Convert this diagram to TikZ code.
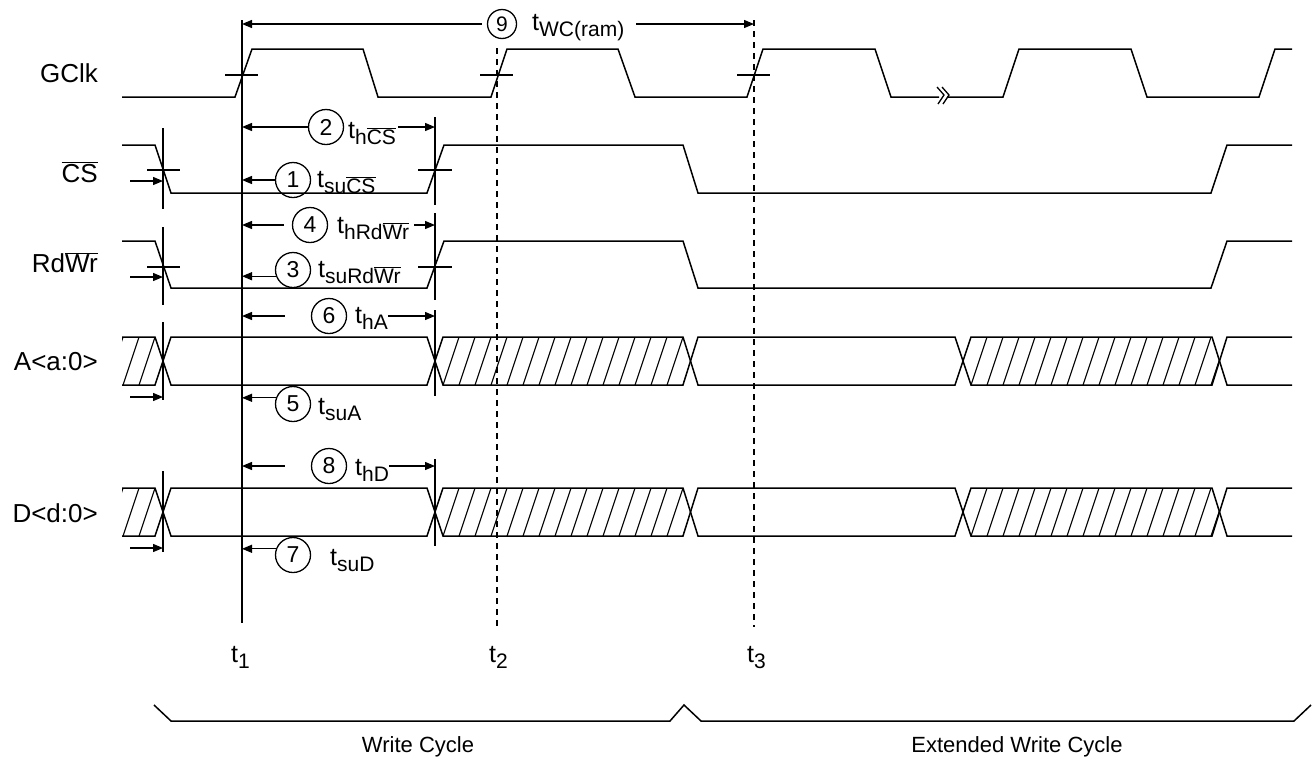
\documentclass[tikz,border=0pt]{standalone}
\usepackage{fontspec}
\setmainfont{Liberation Sans}
\usetikzlibrary{arrows.meta}

\newcommand{\tsub}[1]{t\raisebox{-6pt}{\fontsize{21}{21}\selectfont #1}}
\newcommand{\ovl}[1]{$\overline{\mbox{#1}}$}

\tikzset{
  sig/.style={line width=1.5pt, line join=miter},
  xtick/.style={line width=1.3pt},
  hatch/.style={line width=1.1pt},
  tarrow/.style={line width=1.3pt, -{Triangle[length=10pt,width=8pt]}},
  tdash/.style={line width=1.3pt, dash pattern=on 6pt off 5pt},
  num/.style={draw, circle, line width=1.3pt, minimum size=35pt, inner sep=0pt,
              font=\fontsize{23}{23}\selectfont},
  lbl/.style={inner sep=0pt, anchor=base west, font=\fontsize{25}{25}\selectfont},
  signame/.style={inner sep=0pt, anchor=base east, font=\fontsize{26}{26}\selectfont},
  cyc/.style={inner sep=0pt, font=\fontsize{22}{22}\selectfont},
}

\begin{document}
\begin{tikzpicture}[x=1pt,y=-1pt]
    \useasboundingbox (0,0) rectangle (1312,761);
    %% Reference lines
    \coordinate (tone)   at (242,20);
    \coordinate (thold)  at (435,117);
    \coordinate (tthree) at (754,20);
    \draw[xtick] (tone) -- (242,623);
    \draw[tdash] (497,48) -- (497,627);
    \draw[tdash] (tthree) -- (754,627);
    %% Signal names
    \node[signame] (gclk) at (98,82)  {GClk};
    \node[signame] (cs)   at (98,182) {\ovl{CS}};
    \node[signame] (rdwr) at (98,272) {Rd\ovl{Wr}};
    \node[signame] (abus) at (98,370) {A<a:0>};
    \node[signame] (dbus) at (98,522) {D<d:0>};
    %% GClk
    \draw[sig] (122,97) -- (235,97) -- (252,49) -- (363,49) -- (378,97) -- (491,97)
        -- (507,49) -- (618,49) -- (635,97) -- (747,97) -- (763,49) -- (875,49)
        -- (891,97) -- (939,97);
    \draw[sig] (947,97) -- (1003,97) -- (1019,49) -- (1131,49) -- (1147,97)
        -- (1259,97) -- (1275,49) -- (1292,49);
        \draw[xtick] (937,87) -- (944,95) -- (938,104);
        \draw[xtick] (942,87) -- (949,95) -- (943,104);
    \foreach \x in {242,497,754}
        \draw[xtick] (\x-17,75) -- (\x+16,75);
    %% CS and RdWr
    \draw[sig] (122,145) -- (155,145) -- (171,193) -- (427,193) -- (444,145)
        -- (683,145) -- (698,193) -- (1211,193) -- (1227,145) -- (1292,145);
    \draw[sig] (122,241) -- (155,241) -- (171,288) -- (427,288) -- (444,241)
        -- (683,241) -- (698,288) -- (1211,288) -- (1227,241) -- (1292,241);
    \foreach \y in {170,267} {
        \draw[xtick] (147,\y) -- (180,\y);
        \draw[xtick] (418,\y) -- (452,\y);
    }
    %% Setup and hold edges
    \draw[xtick] (163,128) -- (163,209);  \draw[xtick] (435,117) -- (435,205);
    \draw[xtick] (163,227) -- (163,305);  \draw[xtick] (435,213) -- (435,300);
    \draw[xtick] (163,322) -- (163,400);  \draw[xtick] (435,310) -- (435,396);
    \draw[xtick] (163,471) -- (163,552);  \draw[xtick] (435,459) -- (435,546);
    %% Address and data busses
    \foreach \dy in {0,151} {
    \begin{scope}[shift={(0,\dy)}]
        \draw[sig] (122,337) -- (155,337) -- (171,385) -- (427,385) -- (443,337)
            -- (683,337) -- (698,385) -- (955,385) -- (971,337) -- (1212,337)
            -- (1227,385) -- (1292,385);
        \draw[sig] (122,385) -- (155,385) -- (171,337) -- (427,337) -- (443,385)
            -- (683,385) -- (698,337) -- (955,337) -- (971,385) -- (1212,385)
            -- (1227,337) -- (1292,337);
        \begin{scope}
            \clip (122,337) -- (155,337) -- (163,361) -- (155,385) -- (122,385) -- cycle;
            \foreach \x in {107,123,139}
                \draw[hatch] (\x,385) -- ++(16,-48);
        \end{scope}
        \begin{scope}
            \clip (435,361) -- (443,337) -- (683,337) -- (690,361) -- (683,385) -- (443,385) -- cycle;
            \foreach \x in {443,459,...,683}
                \draw[hatch] (\x,385) -- ++(16,-48);
        \end{scope}
        \begin{scope}
            \clip (963,361) -- (971,337) -- (1212,337) -- (1220,361) -- (1212,385) -- (971,385) -- cycle;
            \foreach \x in {971,987,...,1212}
                \draw[hatch] (\x,385) -- ++(16,-48);
        \end{scope}
    \end{scope}
    }
    %% Timing parameters
    \foreach \y in {181,277,397,548}
        \draw[tarrow] (130,\y) -- (163,\y);
    \node[num, minimum size=29pt, font=\fontsize{21}{21}\selectfont] (c9) at (502,24) {9};
    \node[num] (c2) at (326,127) {2};
    \node[num] (c1) at (293,180) {1};
    \node[num] (c4) at (310,225) {4};
    \node[num] (c3) at (293,270) {3};
    \node[num] (c6) at (329,316) {6};
    \node[num] (c5) at (293,404) {5};
    \node[num] (c8) at (329,466) {8};
    \node[num] (c7) at (293,555) {7};
    \node[lbl] (lwc)    at (532,30)  {\tsub{WC(ram)}};
    \node[lbl] (lhcs)   at (348,138) {\tsub{h\ovl{CS}}};
    \node[lbl] (lsucs)  at (317,187) {\tsub{su\ovl{CS}}};
    \node[lbl] (lhrw)   at (337,233) {\tsub{hRd\ovl{Wr}}};
    \node[lbl] (lsurw)  at (318,277) {\tsub{suRd\ovl{Wr}}};
    \node[lbl] (lha)    at (355,323) {\tsub{hA}};
    \node[lbl] (lsua)   at (318,414) {\tsub{suA}};
    \node[lbl] (lhd)    at (355,475) {\tsub{hD}};
    \node[lbl] (lsud)   at (330,565) {\tsub{suD}};
    %% Arrows to t1
    \draw[tarrow] ([xshift=-5pt]c9.west) -- (c9.west -| tone);
    \draw[tarrow] (c2.west) -- (c2.west -| tone);
    \draw[tarrow] (c1.west) -- (c1.west -| tone);
    \draw[tarrow] ([xshift=-8pt]c4.west) -- (c4.west -| tone);
    \draw[tarrow] (c3.200) -- (c3.200 -| tone);
    \draw[tarrow] ([xshift=-26pt]c6.west) -- (c6.west -| tone);
    \draw[tarrow] (c5.160) -- (c5.160 -| tone);
    \draw[tarrow] ([xshift=-26pt]c8.west) -- (c8.west -| tone);
    \draw[tarrow] (c7.160) -- (c7.160 -| tone);
    %% Arrows to hold edge
    \draw[tarrow] ([xshift=12pt]lwc.east |- c9) -- (tthree |- c9);
    \draw[tarrow] ([xshift=2pt]lhcs.east |- c2) -- (thold |- c2);
    \draw[tarrow] ([xshift=5pt]lhrw.east |- c4) -- (thold |- c4);
    \draw[tarrow] (lha.east |- c6) -- (thold |- c6);
    \draw[tarrow] (lhd.east |- c8) -- (thold |- c8);
    %% Time marks
    \node[lbl] (tlone)   at (231,662) {\tsub{1}};
    \node[lbl] (tltwo)   at (489,662) {\tsub{2}};
    \node[lbl] (tlthree) at (747,662) {\tsub{3}};
    %% Cycles
    \draw[sig] (154,705) -- (171,721) -- (670,721) -- (684,705) -- (701,721)
        -- (1294,721) -- (1311,705);
    \node[cyc] (wcyc)  at (418,747)  {Write Cycle};
    \node[cyc] (ewcyc) at (1017,747) {Extended Write Cycle};
\end{tikzpicture}
\end{document}
